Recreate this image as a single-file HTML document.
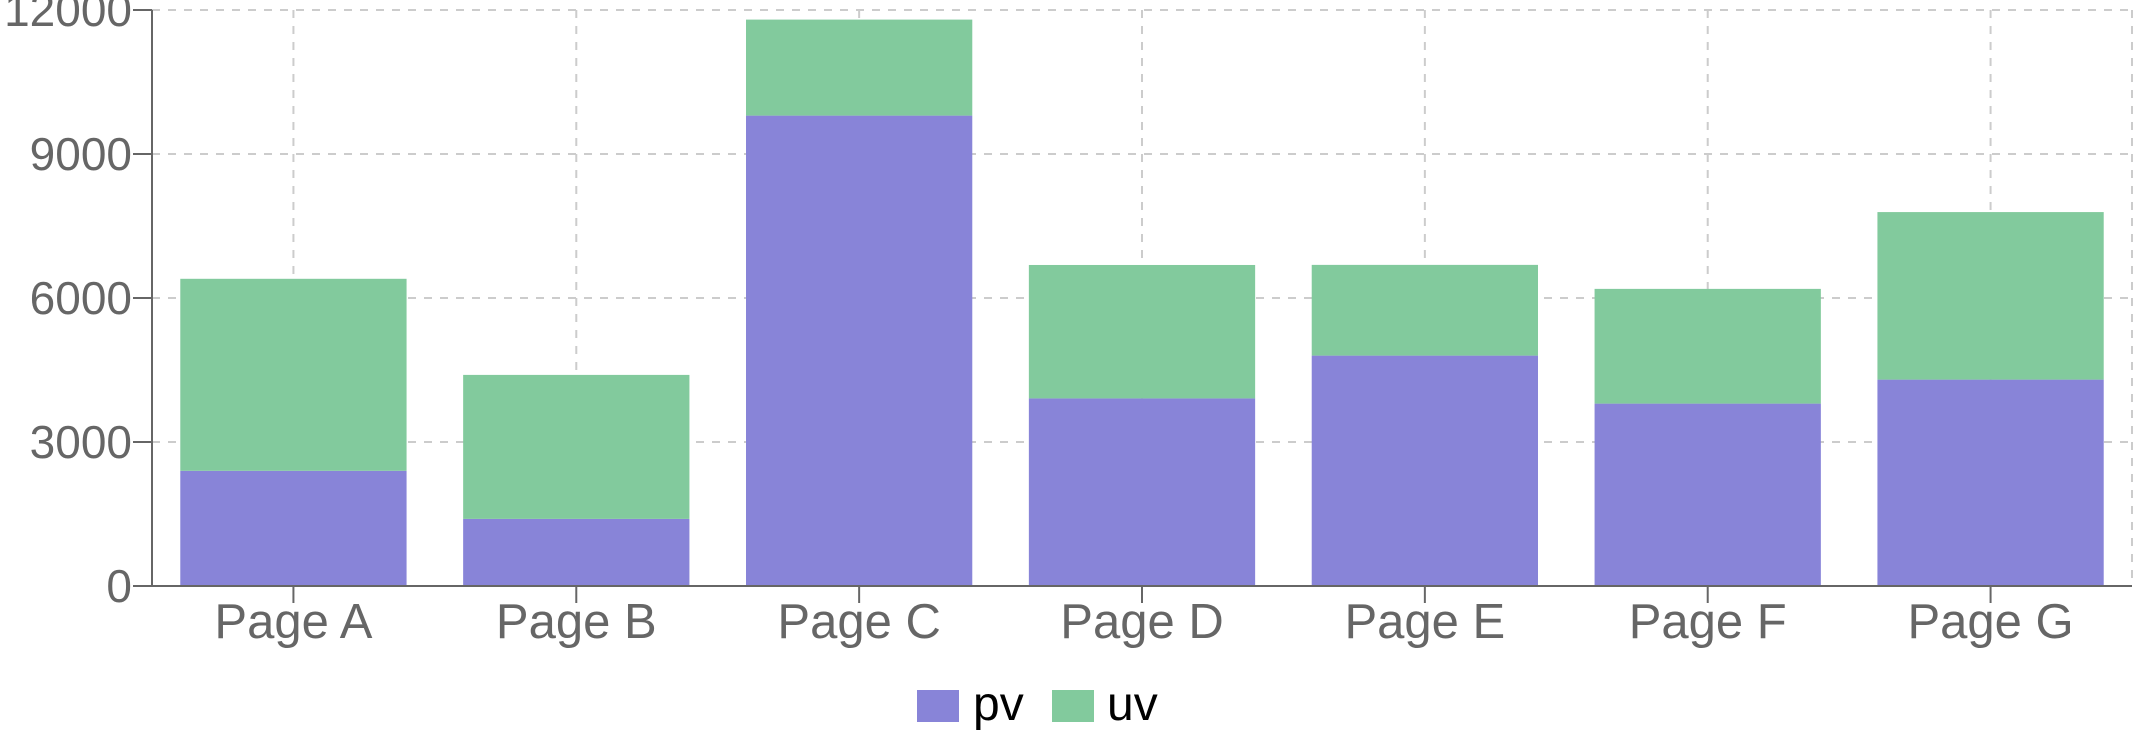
<!DOCTYPE html>
<html><head><meta charset="utf-8"><style>
html,body{margin:0;padding:0;background:#fff;width:2144px;height:738px;overflow:hidden}
svg{display:block;font-family:"Liberation Sans",Arial,sans-serif}
</style></head><body>
<svg id="chart" width="2144" height="738">
<g id="grid"></g>
<g id="bars"></g>
<g id="axes"></g>
<g>
<rect x="917" y="690" width="42" height="32" fill="#8884d8"/>
<text x="973" y="720" font-size="48" fill="#000">pv</text>
<rect x="1052" y="690" width="42" height="32" fill="#82ca9d"/>
<text x="1107" y="720" font-size="48" fill="#000">uv</text>
</g>
</svg>
<script>
const categories = ["Page A","Page B","Page C","Page D","Page E","Page F","Page G"];
const pv = [2400,1398,9800,3908,4800,3800,4300];
const uv = [4000,3000,2000,2780,1890,2390,3490];
const yTicks = [0,3000,6000,9000,12000];
const yMax = 12000;

const L=152,R=2132,T=10,B=586;
const NS="http://www.w3.org/2000/svg";
const band=(R-L)/categories.length;
function x(i){return L+band*i;}
function y(v){return B-(v/yMax)*(B-T);}
function mk(tag,attrs,parent){const e=document.createElementNS(NS,tag);for(const k in attrs)e.setAttribute(k,attrs[k]);parent.appendChild(e);return e;}
const grid=document.getElementById('grid'),bars=document.getElementById('bars'),axes=document.getElementById('axes');

yTicks.forEach(t=>{
  if(t===0)return;
  const l=mk('line',{x1:L,x2:R,y1:y(t),y2:y(t),stroke:'#ccc','stroke-width':2,'stroke-dasharray':'8 8'},grid);
  
  
});
categories.forEach((c,i)=>{
  const l=mk('line',{x1:x(i)+band/2,x2:x(i)+band/2,y1:T,y2:B,stroke:'#ccc','stroke-width':2,'stroke-dasharray':'8 8'},grid);
  
  
});
const rl=mk('line',{x1:R,x2:R,y1:T,y2:B,stroke:'#ccc','stroke-width':2,'stroke-dasharray':'8 8'},grid);



const bw=band*0.8;
categories.forEach((c,i)=>{
  const bx=x(i)+(band-bw)/2;
  const r1=mk('rect',{x:bx,y:y(pv[i]),width:bw,height:B-y(pv[i]),fill:'#8884d8'},bars);
  
  
  const top=pv[i]+uv[i];
  const r2=mk('rect',{x:bx,y:y(top),width:bw,height:y(pv[i])-y(top),fill:'#82ca9d'},bars);
  
  
});

const ya=mk('line',{x1:L,x2:L,y1:T,y2:B,stroke:'#666','stroke-width':2},axes);


const xa=mk('line',{x1:L,x2:R,y1:B,y2:B,stroke:'#666','stroke-width':2},axes);


yTicks.forEach(t=>{
  const tk=mk('line',{x1:L-19,x2:L,y1:y(t),y2:y(t),stroke:'#666','stroke-width':2},axes);
  
  
  const tx=mk('text',{x:L-20,y:y(t)+16,'text-anchor':'end','font-size':46,fill:'#666'},axes);
  tx.textContent=t;
  
  
});
categories.forEach((c,i)=>{
  const cx=x(i)+band/2;
  const tk=mk('line',{x1:cx,x2:cx,y1:B,y2:B+17,stroke:'#666','stroke-width':2},axes);
  
  
  const tx=mk('text',{x:cx,y:638,'text-anchor':'middle','font-size':49,fill:'#666'},axes);
  tx.textContent=c;
  
  
});
</script>
</body></html>
